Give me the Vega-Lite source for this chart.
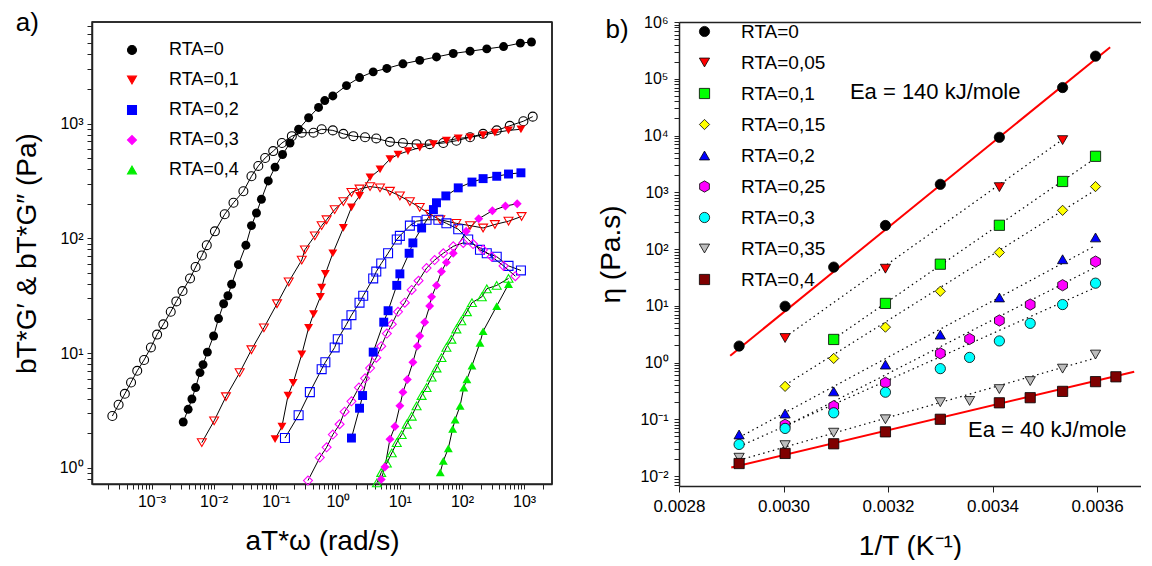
{
  "$schema": "https://vega.github.io/schema/vega-lite/v6.json",
  "background": "white",
  "padding": {"left": 12, "top": 9, "right": 0, "bottom": 0},
  "config": {
    "font": "Liberation Sans",
    "view": {"stroke": null},
    "axis": {"labelFont": "Liberation Sans", "labelFontSize": 16, "labelColor": "black", "titleFont": "Liberation Sans", "titleFontSize": 28, "titleFontWeight": "normal", "titleColor": "black", "domainColor": "#222222", "domainWidth": 1.5, "tickColor": "#222222", "tickWidth": 1, "grid": false, "labelOverlap": false, "labelFlush": false},
    "legend": {"labelFont": "Liberation Sans", "labelColor": "black", "padding": 0},
    "concat": {"spacing": 43}
  },
  "resolve": {"scale": {"color": "independent", "fill": "independent", "shape": "independent", "x": "independent", "y": "independent"}},
  "datasets": {
    "visco": [
      {"R":"RTA=0","m":"G2","w":0.000234,"G":2.83},{"R":"RTA=0","m":"G2","w":0.000295,"G":3.55},{"R":"RTA=0","m":"G2","w":0.000372,"G":4.42},{"R":"RTA=0","m":"G2","w":0.000468,"G":5.55},{"R":"RTA=0","m":"G2","w":0.000589,"G":7.01},{"R":"RTA=0","m":"G2","w":0.000759,"G":8.71},{"R":"RTA=0","m":"G2","w":0.000977,"G":11.2},{"R":"RTA=0","m":"G2","w":0.00123,"G":14.5},{"R":"RTA=0","m":"G2","w":0.00155,"G":17.8},{"R":"RTA=0","m":"G2","w":0.00204,"G":22.9},{"R":"RTA=0","m":"G2","w":0.00251,"G":28.2},{"R":"RTA=0","m":"G2","w":0.00316,"G":34.7},{"R":"RTA=0","m":"G2","w":0.00417,"G":44.7},{"R":"RTA=0","m":"G2","w":0.00513,"G":56.2},{"R":"RTA=0","m":"G2","w":0.00646,"G":70.8},{"R":"RTA=0","m":"G2","w":0.00776,"G":87.1},{"R":"RTA=0","m":"G2","w":0.0105,"G":115},{"R":"RTA=0","m":"G2","w":0.0151,"G":162},{"R":"RTA=0","m":"G2","w":0.0209,"G":204},{"R":"RTA=0","m":"G2","w":0.0302,"G":257},{"R":"RTA=0","m":"G2","w":0.0407,"G":347},{"R":"RTA=0","m":"G2","w":0.0525,"G":427},{"R":"RTA=0","m":"G2","w":0.0676,"G":501},{"R":"RTA=0","m":"G2","w":0.0912,"G":575},{"R":"RTA=0","m":"G2","w":0.126,"G":676},{"R":"RTA=0","m":"G2","w":0.182,"G":776},{"R":"RTA=0","m":"G2","w":0.263,"G":832},{"R":"RTA=0","m":"G2","w":0.407,"G":832},{"R":"RTA=0","m":"G2","w":0.55,"G":891},{"R":"RTA=0","m":"G2","w":0.832,"G":871},{"R":"RTA=0","m":"G2","w":1.23,"G":813},{"R":"RTA=0","m":"G2","w":1.78,"G":776},{"R":"RTA=0","m":"G2","w":2.75,"G":759},{"R":"RTA=0","m":"G2","w":4.17,"G":741},{"R":"RTA=0","m":"G2","w":6.92,"G":692},{"R":"RTA=0","m":"G2","w":11.2,"G":676},{"R":"RTA=0","m":"G2","w":18.6,"G":661},{"R":"RTA=0","m":"G2","w":30.2,"G":661},{"R":"RTA=0","m":"G2","w":50.1,"G":676},{"R":"RTA=0","m":"G2","w":81.3,"G":708},{"R":"RTA=0","m":"G2","w":135,"G":759},{"R":"RTA=0","m":"G2","w":219,"G":813},{"R":"RTA=0","m":"G2","w":363,"G":871},{"R":"RTA=0","m":"G2","w":589,"G":955},{"R":"RTA=0","m":"G2","w":977,"G":1047},{"R":"RTA=0","m":"G2","w":1380,"G":1148},
      {"R":"RTA=0","m":"G1","w":0.00324,"G":2.51},{"R":"RTA=0","m":"G1","w":0.00389,"G":3.24},{"R":"RTA=0","m":"G1","w":0.00447,"G":3.98},{"R":"RTA=0","m":"G1","w":0.00513,"G":5.01},{"R":"RTA=0","m":"G1","w":0.00603,"G":6.76},{"R":"RTA=0","m":"G1","w":0.00676,"G":7.94},{"R":"RTA=0","m":"G1","w":0.00794,"G":10.2},{"R":"RTA=0","m":"G1","w":0.01,"G":14.1},{"R":"RTA=0","m":"G1","w":0.012,"G":20},{"R":"RTA=0","m":"G1","w":0.0145,"G":26.9},{"R":"RTA=0","m":"G1","w":0.017,"G":31.6},{"R":"RTA=0","m":"G1","w":0.0195,"G":39.8},{"R":"RTA=0","m":"G1","w":0.0251,"G":58.9},{"R":"RTA=0","m":"G1","w":0.0331,"G":87.1},{"R":"RTA=0","m":"G1","w":0.0407,"G":129},{"R":"RTA=0","m":"G1","w":0.049,"G":166},{"R":"RTA=0","m":"G1","w":0.0589,"G":219},{"R":"RTA=0","m":"G1","w":0.0759,"G":316},{"R":"RTA=0","m":"G1","w":0.0977,"G":417},{"R":"RTA=0","m":"G1","w":0.129,"G":537},{"R":"RTA=0","m":"G1","w":0.17,"G":676},{"R":"RTA=0","m":"G1","w":0.234,"G":891},{"R":"RTA=0","m":"G1","w":0.339,"G":1122},{"R":"RTA=0","m":"G1","w":0.49,"G":1380},{"R":"RTA=0","m":"G1","w":0.617,"G":1585},{"R":"RTA=0","m":"G1","w":0.832,"G":1738},{"R":"RTA=0","m":"G1","w":1.38,"G":2138},{"R":"RTA=0","m":"G1","w":2.24,"G":2512},{"R":"RTA=0","m":"G1","w":3.72,"G":2818},{"R":"RTA=0","m":"G1","w":6.17,"G":3020},{"R":"RTA=0","m":"G1","w":11.2,"G":3311},{"R":"RTA=0","m":"G1","w":20.9,"G":3548},{"R":"RTA=0","m":"G1","w":38.9,"G":3802},{"R":"RTA=0","m":"G1","w":72.4,"G":4074},{"R":"RTA=0","m":"G1","w":135,"G":4266},{"R":"RTA=0","m":"G1","w":251,"G":4467},{"R":"RTA=0","m":"G1","w":468,"G":4677},{"R":"RTA=0","m":"G1","w":871,"G":5012},{"R":"RTA=0","m":"G1","w":1318,"G":5129},
      {"R":"RTA=0,1","m":"G2","w":0.00646,"G":1.66},{"R":"RTA=0,1","m":"G2","w":0.0102,"G":2.57},{"R":"RTA=0,1","m":"G2","w":0.0158,"G":4.17},{"R":"RTA=0,1","m":"G2","w":0.0263,"G":6.76},{"R":"RTA=0,1","m":"G2","w":0.0407,"G":10.7},{"R":"RTA=0,1","m":"G2","w":0.0646,"G":16.6},{"R":"RTA=0,1","m":"G2","w":0.105,"G":26.9},{"R":"RTA=0,1","m":"G2","w":0.162,"G":41.7},{"R":"RTA=0,1","m":"G2","w":0.263,"G":64.6},{"R":"RTA=0,1","m":"G2","w":0.295,"G":79.4},{"R":"RTA=0,1","m":"G2","w":0.427,"G":105},{"R":"RTA=0,1","m":"G2","w":0.55,"G":129},{"R":"RTA=0,1","m":"G2","w":0.661,"G":145},{"R":"RTA=0,1","m":"G2","w":0.891,"G":178},{"R":"RTA=0,1","m":"G2","w":1.23,"G":209},{"R":"RTA=0,1","m":"G2","w":1.66,"G":251},{"R":"RTA=0,1","m":"G2","w":2.24,"G":269},{"R":"RTA=0,1","m":"G2","w":3.31,"G":282},{"R":"RTA=0,1","m":"G2","w":4.79,"G":275},{"R":"RTA=0,1","m":"G2","w":6.92,"G":257},{"R":"RTA=0,1","m":"G2","w":10,"G":234},{"R":"RTA=0,1","m":"G2","w":14.5,"G":209},{"R":"RTA=0,1","m":"G2","w":20.9,"G":186},{"R":"RTA=0,1","m":"G2","w":30.2,"G":162},{"R":"RTA=0,1","m":"G2","w":44.7,"G":145},{"R":"RTA=0,1","m":"G2","w":81.3,"G":135},{"R":"RTA=0,1","m":"G2","w":135,"G":129},{"R":"RTA=0,1","m":"G2","w":219,"G":123},{"R":"RTA=0,1","m":"G2","w":339,"G":132},{"R":"RTA=0,1","m":"G2","w":562,"G":141},{"R":"RTA=0,1","m":"G2","w":912,"G":155},
      {"R":"RTA=0,1","m":"G1","w":0.0977,"G":1.78},{"R":"RTA=0,1","m":"G1","w":0.126,"G":2.29},{"R":"RTA=0,1","m":"G1","w":0.158,"G":4.27},{"R":"RTA=0,1","m":"G1","w":0.191,"G":5.5},{"R":"RTA=0,1","m":"G1","w":0.263,"G":9.77},{"R":"RTA=0,1","m":"G1","w":0.339,"G":16.6},{"R":"RTA=0,1","m":"G1","w":0.407,"G":21.9},{"R":"RTA=0,1","m":"G1","w":0.525,"G":30.9},{"R":"RTA=0,1","m":"G1","w":0.55,"G":37.2},{"R":"RTA=0,1","m":"G1","w":0.631,"G":49},{"R":"RTA=0,1","m":"G1","w":0.832,"G":74.1},{"R":"RTA=0,1","m":"G1","w":1.23,"G":123},{"R":"RTA=0,1","m":"G1","w":1.66,"G":186},{"R":"RTA=0,1","m":"G1","w":2.24,"G":234},{"R":"RTA=0,1","m":"G1","w":3.31,"G":339},{"R":"RTA=0,1","m":"G1","w":4.79,"G":398},{"R":"RTA=0,1","m":"G1","w":6.92,"G":490},{"R":"RTA=0,1","m":"G1","w":9.33,"G":537},{"R":"RTA=0,1","m":"G1","w":13.5,"G":575},{"R":"RTA=0,1","m":"G1","w":20.9,"G":617},{"R":"RTA=0,1","m":"G1","w":34.7,"G":661},{"R":"RTA=0,1","m":"G1","w":56.2,"G":708},{"R":"RTA=0,1","m":"G1","w":87.1,"G":741},{"R":"RTA=0,1","m":"G1","w":135,"G":759},{"R":"RTA=0,1","m":"G1","w":219,"G":794},{"R":"RTA=0,1","m":"G1","w":339,"G":832},{"R":"RTA=0,1","m":"G1","w":562,"G":871},{"R":"RTA=0,1","m":"G1","w":891,"G":891},
      {"R":"RTA=0,2","m":"G2","w":0.141,"G":1.82},{"R":"RTA=0,2","m":"G2","w":0.234,"G":2.88},{"R":"RTA=0,2","m":"G2","w":0.355,"G":4.57},{"R":"RTA=0,2","m":"G2","w":0.55,"G":7.24},{"R":"RTA=0,2","m":"G2","w":0.631,"G":8.32},{"R":"RTA=0,2","m":"G2","w":0.891,"G":11.2},{"R":"RTA=0,2","m":"G2","w":1,"G":13.2},{"R":"RTA=0,2","m":"G2","w":1.38,"G":17.8},{"R":"RTA=0,2","m":"G2","w":1.66,"G":21.4},{"R":"RTA=0,2","m":"G2","w":2.24,"G":27.5},{"R":"RTA=0,2","m":"G2","w":2.57,"G":31.6},{"R":"RTA=0,2","m":"G2","w":3.72,"G":44.7},{"R":"RTA=0,2","m":"G2","w":4.17,"G":51.3},{"R":"RTA=0,2","m":"G2","w":5.01,"G":60.3},{"R":"RTA=0,2","m":"G2","w":6.46,"G":74.1},{"R":"RTA=0,2","m":"G2","w":8.91,"G":97.7},{"R":"RTA=0,2","m":"G2","w":10,"G":105},{"R":"RTA=0,2","m":"G2","w":14.5,"G":129},{"R":"RTA=0,2","m":"G2","w":18.6,"G":141},{"R":"RTA=0,2","m":"G2","w":26.9,"G":145},{"R":"RTA=0,2","m":"G2","w":41.7,"G":145},{"R":"RTA=0,2","m":"G2","w":56.2,"G":135},{"R":"RTA=0,2","m":"G2","w":87.1,"G":120},{"R":"RTA=0,2","m":"G2","w":126,"G":97.7},{"R":"RTA=0,2","m":"G2","w":195,"G":79.4},{"R":"RTA=0,2","m":"G2","w":251,"G":74.1},{"R":"RTA=0,2","m":"G2","w":363,"G":69.2},{"R":"RTA=0,2","m":"G2","w":562,"G":57.5},{"R":"RTA=0,2","m":"G2","w":891,"G":52.5},
      {"R":"RTA=0,2","m":"G1","w":1.66,"G":1.82},{"R":"RTA=0,2","m":"G1","w":2.24,"G":3.31},{"R":"RTA=0,2","m":"G1","w":2.51,"G":4.27},{"R":"RTA=0,2","m":"G1","w":3.72,"G":10.2},{"R":"RTA=0,2","m":"G1","w":5.5,"G":18.6},{"R":"RTA=0,2","m":"G1","w":6.46,"G":23.4},{"R":"RTA=0,2","m":"G1","w":8.91,"G":38.9},{"R":"RTA=0,2","m":"G1","w":10,"G":49},{"R":"RTA=0,2","m":"G1","w":14.1,"G":74.1},{"R":"RTA=0,2","m":"G1","w":16.2,"G":91.2},{"R":"RTA=0,2","m":"G1","w":22.4,"G":123},{"R":"RTA=0,2","m":"G1","w":34.7,"G":178},{"R":"RTA=0,2","m":"G1","w":38.9,"G":204},{"R":"RTA=0,2","m":"G1","w":55,"G":234},{"R":"RTA=0,2","m":"G1","w":87.1,"G":275},{"R":"RTA=0,2","m":"G1","w":145,"G":309},{"R":"RTA=0,2","m":"G1","w":219,"G":331},{"R":"RTA=0,2","m":"G1","w":363,"G":347},{"R":"RTA=0,2","m":"G1","w":562,"G":363},{"R":"RTA=0,2","m":"G1","w":891,"G":372},
      {"R":"RTA=0,3","m":"G2","w":0.331,"G":0.776},{"R":"RTA=0,3","m":"G2","w":0.513,"G":1.23},{"R":"RTA=0,3","m":"G2","w":0.661,"G":1.51},{"R":"RTA=0,3","m":"G2","w":0.832,"G":1.95},{"R":"RTA=0,3","m":"G2","w":1.07,"G":2.4},{"R":"RTA=0,3","m":"G2","w":1.29,"G":3.09},{"R":"RTA=0,3","m":"G2","w":1.66,"G":3.8},{"R":"RTA=0,3","m":"G2","w":2.19,"G":5.01},{"R":"RTA=0,3","m":"G2","w":2.75,"G":6.03},{"R":"RTA=0,3","m":"G2","w":3.31,"G":7.41},{"R":"RTA=0,3","m":"G2","w":4.17,"G":9.12},{"R":"RTA=0,3","m":"G2","w":5.01,"G":11.5},{"R":"RTA=0,3","m":"G2","w":6.17,"G":14.8},{"R":"RTA=0,3","m":"G2","w":7.41,"G":17.8},{"R":"RTA=0,3","m":"G2","w":9.33,"G":22.9},{"R":"RTA=0,3","m":"G2","w":12,"G":27.5},{"R":"RTA=0,3","m":"G2","w":15.5,"G":35.5},{"R":"RTA=0,3","m":"G2","w":20,"G":42.7},{"R":"RTA=0,3","m":"G2","w":26.9,"G":55},{"R":"RTA=0,3","m":"G2","w":36.3,"G":64.6},{"R":"RTA=0,3","m":"G2","w":50.1,"G":74.1},{"R":"RTA=0,3","m":"G2","w":72.4,"G":85.1},{"R":"RTA=0,3","m":"G2","w":105,"G":91.2},{"R":"RTA=0,3","m":"G2","w":151,"G":89.1},{"R":"RTA=0,3","m":"G2","w":219,"G":79.4},{"R":"RTA=0,3","m":"G2","w":302,"G":69.2},{"R":"RTA=0,3","m":"G2","w":468,"G":57.5},{"R":"RTA=0,3","m":"G2","w":724,"G":46.8},
      {"R":"RTA=0,3","m":"G1","w":5.01,"G":0.794},{"R":"RTA=0,3","m":"G1","w":5.75,"G":1.02},{"R":"RTA=0,3","m":"G1","w":6.92,"G":1.78},{"R":"RTA=0,3","m":"G1","w":8.32,"G":2.29},{"R":"RTA=0,3","m":"G1","w":10,"G":3.47},{"R":"RTA=0,3","m":"G1","w":11.2,"G":4.57},{"R":"RTA=0,3","m":"G1","w":13.2,"G":5.89},{"R":"RTA=0,3","m":"G1","w":16.2,"G":8.32},{"R":"RTA=0,3","m":"G1","w":19.1,"G":11.5},{"R":"RTA=0,3","m":"G1","w":20.9,"G":14.1},{"R":"RTA=0,3","m":"G1","w":25.1,"G":18.6},{"R":"RTA=0,3","m":"G1","w":30.2,"G":25.7},{"R":"RTA=0,3","m":"G1","w":32.4,"G":30.9},{"R":"RTA=0,3","m":"G1","w":38.9,"G":38.9},{"R":"RTA=0,3","m":"G1","w":46.8,"G":51.3},{"R":"RTA=0,3","m":"G1","w":56.2,"G":61.7},{"R":"RTA=0,3","m":"G1","w":72.4,"G":74.1},{"R":"RTA=0,3","m":"G1","w":117,"G":115},{"R":"RTA=0,3","m":"G1","w":186,"G":148},{"R":"RTA=0,3","m":"G1","w":309,"G":174},{"R":"RTA=0,3","m":"G1","w":501,"G":191},{"R":"RTA=0,3","m":"G1","w":776,"G":200},
      {"R":"RTA=0,4","m":"G2","w":4.27,"G":0.741},{"R":"RTA=0,4","m":"G2","w":5.01,"G":0.912},{"R":"RTA=0,4","m":"G2","w":6.17,"G":1.1},{"R":"RTA=0,4","m":"G2","w":7.41,"G":1.35},{"R":"RTA=0,4","m":"G2","w":8.91,"G":1.66},{"R":"RTA=0,4","m":"G2","w":10.7,"G":1.95},{"R":"RTA=0,4","m":"G2","w":12.9,"G":2.4},{"R":"RTA=0,4","m":"G2","w":15.5,"G":2.82},{"R":"RTA=0,4","m":"G2","w":18.6,"G":3.47},{"R":"RTA=0,4","m":"G2","w":22.4,"G":4.27},{"R":"RTA=0,4","m":"G2","w":26.9,"G":5.01},{"R":"RTA=0,4","m":"G2","w":32.4,"G":6.17},{"R":"RTA=0,4","m":"G2","w":38.9,"G":7.41},{"R":"RTA=0,4","m":"G2","w":46.8,"G":9.12},{"R":"RTA=0,4","m":"G2","w":56.2,"G":11.2},{"R":"RTA=0,4","m":"G2","w":67.6,"G":13.2},{"R":"RTA=0,4","m":"G2","w":81.3,"G":16.2},{"R":"RTA=0,4","m":"G2","w":97.7,"G":19.1},{"R":"RTA=0,4","m":"G2","w":120,"G":22.9},{"R":"RTA=0,4","m":"G2","w":145,"G":27.5},{"R":"RTA=0,4","m":"G2","w":209,"G":30.9},{"R":"RTA=0,4","m":"G2","w":251,"G":36.3},{"R":"RTA=0,4","m":"G2","w":363,"G":38.9},{"R":"RTA=0,4","m":"G2","w":562,"G":44.7},
      {"R":"RTA=0,4","m":"G1","w":44.7,"G":0.912},{"R":"RTA=0,4","m":"G1","w":50.1,"G":1.15},{"R":"RTA=0,4","m":"G1","w":60.3,"G":1.48},{"R":"RTA=0,4","m":"G1","w":70.8,"G":2.19},{"R":"RTA=0,4","m":"G1","w":77.6,"G":2.63},{"R":"RTA=0,4","m":"G1","w":93.3,"G":3.47},{"R":"RTA=0,4","m":"G1","w":107,"G":5.01},{"R":"RTA=0,4","m":"G1","w":120,"G":5.89},{"R":"RTA=0,4","m":"G1","w":145,"G":7.76},{"R":"RTA=0,4","m":"G1","w":195,"G":12.3},{"R":"RTA=0,4","m":"G1","w":219,"G":15.5},{"R":"RTA=0,4","m":"G1","w":363,"G":25.7},{"R":"RTA=0,4","m":"G1","w":562,"G":39.8}
    ],
    "eta": [
      {"RT":"RTA=0","invT":0.002915,"eta":1.95},{"RT":"RTA=0","invT":0.003003,"eta":9.8},{"RT":"RTA=0","invT":0.003096,"eta":48},{"RT":"RTA=0","invT":0.003195,"eta":260},{"RT":"RTA=0","invT":0.0033,"eta":1380},{"RT":"RTA=0","invT":0.003413,"eta":9300},{"RT":"RTA=0","invT":0.003534,"eta":70000},{"RT":"RTA=0","invT":0.003597,"eta":250000},
      {"RT":"RTA=0,05","invT":0.003003,"eta":2.7},{"RT":"RTA=0,05","invT":0.003195,"eta":45},{"RT":"RTA=0,05","invT":0.003413,"eta":1230},{"RT":"RTA=0,05","invT":0.003534,"eta":8300},
      {"RT":"RTA=0,1","invT":0.003096,"eta":2.55},{"RT":"RTA=0,1","invT":0.003195,"eta":11},{"RT":"RTA=0,1","invT":0.0033,"eta":54},{"RT":"RTA=0,1","invT":0.003413,"eta":262},{"RT":"RTA=0,1","invT":0.003534,"eta":1550},{"RT":"RTA=0,1","invT":0.003597,"eta":4300},
      {"RT":"RTA=0,15","invT":0.003003,"eta":0.38},{"RT":"RTA=0,15","invT":0.003096,"eta":1.18},{"RT":"RTA=0,15","invT":0.003195,"eta":4.2},{"RT":"RTA=0,15","invT":0.0033,"eta":18},{"RT":"RTA=0,15","invT":0.003413,"eta":87},{"RT":"RTA=0,15","invT":0.003534,"eta":480},{"RT":"RTA=0,15","invT":0.003597,"eta":1260},
      {"RT":"RTA=0,2","invT":0.002915,"eta":0.054},{"RT":"RTA=0,2","invT":0.003003,"eta":0.126},{"RT":"RTA=0,2","invT":0.003096,"eta":0.31},{"RT":"RTA=0,2","invT":0.003195,"eta":0.92},{"RT":"RTA=0,2","invT":0.0033,"eta":3.1},{"RT":"RTA=0,2","invT":0.003413,"eta":14},{"RT":"RTA=0,2","invT":0.003534,"eta":66},{"RT":"RTA=0,2","invT":0.003597,"eta":160},
      {"RT":"RTA=0,25","invT":0.003003,"eta":0.08},{"RT":"RTA=0,25","invT":0.003096,"eta":0.17},{"RT":"RTA=0,25","invT":0.003195,"eta":0.44},{"RT":"RTA=0,25","invT":0.0033,"eta":1.45},{"RT":"RTA=0,25","invT":0.003356,"eta":2.6},{"RT":"RTA=0,25","invT":0.003413,"eta":5.5},{"RT":"RTA=0,25","invT":0.003472,"eta":10.5},{"RT":"RTA=0,25","invT":0.003534,"eta":23},{"RT":"RTA=0,25","invT":0.003597,"eta":60},
      {"RT":"RTA=0,3","invT":0.002915,"eta":0.036},{"RT":"RTA=0,3","invT":0.003003,"eta":0.069},{"RT":"RTA=0,3","invT":0.003096,"eta":0.13},{"RT":"RTA=0,3","invT":0.003195,"eta":0.3},{"RT":"RTA=0,3","invT":0.0033,"eta":0.78},{"RT":"RTA=0,3","invT":0.003356,"eta":1.23},{"RT":"RTA=0,3","invT":0.003413,"eta":2.4},{"RT":"RTA=0,3","invT":0.003472,"eta":4.9},{"RT":"RTA=0,3","invT":0.003534,"eta":10.5},{"RT":"RTA=0,3","invT":0.003597,"eta":25},
      {"RT":"RTA=0,35","invT":0.002915,"eta":0.021},{"RT":"RTA=0,35","invT":0.003003,"eta":0.035},{"RT":"RTA=0,35","invT":0.003096,"eta":0.058},{"RT":"RTA=0,35","invT":0.003195,"eta":0.1},{"RT":"RTA=0,35","invT":0.0033,"eta":0.2},{"RT":"RTA=0,35","invT":0.003356,"eta":0.21},{"RT":"RTA=0,35","invT":0.003413,"eta":0.34},{"RT":"RTA=0,35","invT":0.003472,"eta":0.47},{"RT":"RTA=0,35","invT":0.003534,"eta":0.78},{"RT":"RTA=0,35","invT":0.003597,"eta":1.38},
      {"RT":"RTA=0,4","invT":0.002915,"eta":0.0166},{"RT":"RTA=0,4","invT":0.003003,"eta":0.025},{"RT":"RTA=0,4","invT":0.003096,"eta":0.037},{"RT":"RTA=0,4","invT":0.003195,"eta":0.06},{"RT":"RTA=0,4","invT":0.0033,"eta":0.1},{"RT":"RTA=0,4","invT":0.003413,"eta":0.195},{"RT":"RTA=0,4","invT":0.003472,"eta":0.24},{"RT":"RTA=0,4","invT":0.003534,"eta":0.31},{"RT":"RTA=0,4","invT":0.003597,"eta":0.46},{"RT":"RTA=0,4","invT":0.003636,"eta":0.56}
    ],
    "fitRed": [
      {"f":"140","invT":0.002898,"eta":1.32},{"f":"140","invT":0.003625,"eta":360000},
      {"f":"40","invT":0.0029,"eta":0.0141},{"f":"40","invT":0.003671,"eta":0.69}
    ],
    "fitDot": [
      {"f":"0,05","invT":0.003003,"eta":2.8},{"f":"0,05","invT":0.003534,"eta":8500},
      {"f":"0,1","invT":0.003096,"eta":2.6},{"f":"0,1","invT":0.003597,"eta":4000},
      {"f":"0,15","invT":0.003003,"eta":0.4},{"f":"0,15","invT":0.003597,"eta":1100},
      {"f":"0,2","invT":0.002915,"eta":0.048},{"f":"0,2","invT":0.003597,"eta":115},
      {"f":"0,25","invT":0.003003,"eta":0.075},{"f":"0,25","invT":0.003597,"eta":48},
      {"f":"0,3","invT":0.002915,"eta":0.033},{"f":"0,3","invT":0.003597,"eta":21},
      {"f":"0,35","invT":0.002915,"eta":0.019},{"f":"0,35","invT":0.003597,"eta":1.2}
    ]
  },
  "hconcat": [
    {
      "width": 460,
      "height": 462,
      "view": {"stroke": "#222222", "strokeWidth": 1.5},
      "resolve": {"axis": {"x": "independent", "y": "independent"}},
      "layer": [
        {
          "data": {"name": "visco"},
          "mark": {"type": "line", "color": "black", "strokeWidth": 1},
          "encoding": {
            "x": {"field": "w", "type": "quantitative", "scale": {"type": "log", "domain": [0.00011, 2820], "nice": false},
              "axis": {"orient": "bottom", "title": "aT*ω (rad/s)", "titlePadding": 18, "tickSize": 5, "labelPadding": 4,
                "values": [0.0002,0.0003,0.0004,0.0005,0.0006,0.0007,0.0008,0.0009,0.001,0.002,0.003,0.004,0.005,0.006,0.007,0.008,0.009,0.01,0.02,0.03,0.04,0.05,0.06,0.07,0.08,0.09,0.1,0.2,0.3,0.4,0.5,0.6,0.7,0.8,0.9,1,2,3,4,5,6,7,8,9,10,20,30,40,50,60,70,80,90,100,200,300,400,500,600,700,800,900,1000,2000],
                "labelExpr": "abs(log(datum.value)/LN10 - round(log(datum.value)/LN10)) < 0.001 ? '10' + (round(log(datum.value)/LN10) < 0 ? '⁻' : '') + ['⁰','¹','²','³','⁴','⁵','⁶','⁷'][abs(round(log(datum.value)/LN10))] : ''"}},
            "y": {"field": "G", "type": "quantitative", "scale": {"type": "log", "domain": [0.724, 7660], "nice": false},
              "axis": {"orient": "left", "title": "bT*G′ & bT*G″ (Pa)", "titlePadding": 18, "tickSize": 5, "labelPadding": 4,
                "values": [0.8,0.9,1,2,3,4,5,6,7,8,9,10,20,30,40,50,60,70,80,90,100,200,300,400,500,600,700,800,900,1000,2000,3000,4000,5000,6000,7000],
                "labelExpr": "abs(log(datum.value)/LN10 - round(log(datum.value)/LN10)) < 0.001 ? '10' + (round(log(datum.value)/LN10) < 0 ? '⁻' : '') + ['⁰','¹','²','³','⁴','⁵','⁶','⁷'][abs(round(log(datum.value)/LN10))] : ''"}},
            "detail": [{"field": "R"}, {"field": "m"}]
          }
        },
        {
          "data": {"values": [{}]},
          "mark": {"type": "rule", "color": "#222222", "strokeWidth": 1.5},
          "encoding": {
            "x": {"datum": 0.00011, "type": "quantitative", "scale": {"type": "log", "domain": [0.00011, 2820], "nice": false}, "axis": null},
            "x2": {"datum": 2820},
            "y": {"datum": 7660, "type": "quantitative", "scale": {"type": "log", "domain": [0.724, 7660], "nice": false}, "axis": null}
          }
        },
        {
          "data": {"values": [{}]},
          "mark": {"type": "rule", "color": "#222222", "strokeWidth": 1.5},
          "encoding": {
            "x": {"datum": 2820, "type": "quantitative", "scale": {"type": "log", "domain": [0.00011, 2820], "nice": false}, "axis": null},
            "y": {"datum": 0.724, "type": "quantitative", "scale": {"type": "log", "domain": [0.724, 7660], "nice": false}, "axis": null},
            "y2": {"datum": 7660}
          }
        },
        {
          "data": {"name": "visco"},
          "transform": [{"filter": "datum.m === 'G2'"}],
          "mark": {"type": "point", "filled": false, "strokeWidth": 1.1, "size": 80, "opacity": 1},
          "encoding": {
            "x": {"field": "w", "type": "quantitative", "scale": {"type": "log", "domain": [0.00011, 2820], "nice": false}, "axis": null},
            "y": {"field": "G", "type": "quantitative", "scale": {"type": "log", "domain": [0.724, 7660], "nice": false}, "axis": null},
            "color": {"field": "R", "type": "nominal", "scale": {"domain": ["RTA=0","RTA=0,1","RTA=0,2","RTA=0,3","RTA=0,4"], "range": ["#000000","#ff0000","#0000ff","#ff00ff","#00ee00"]},
              "legend": {"title": null, "orient": "none", "legendX": 31, "legendY": 19, "labelFontSize": 18, "symbolSize": 80, "symbolStrokeWidth": 1.1, "rowPadding": 12, "labelOffset": 28}},
            "shape": {"field": "R", "type": "nominal", "scale": {"domain": ["RTA=0","RTA=0,1","RTA=0,2","RTA=0,3","RTA=0,4"], "range": ["circle","triangle-down","square","diamond","triangle-up"]},
              "legend": {"title": null, "orient": "none", "legendX": 31, "legendY": 19, "labelFontSize": 18, "symbolSize": 80, "symbolStrokeWidth": 1.1, "rowPadding": 12, "labelOffset": 28}}
          }
        },
        {
          "data": {"name": "visco"},
          "transform": [{"filter": "datum.m === 'G1'"}],
          "mark": {"type": "point", "filled": true, "size": 80, "opacity": 1, "strokeWidth": 0},
          "encoding": {
            "x": {"field": "w", "type": "quantitative", "scale": {"type": "log", "domain": [0.00011, 2820], "nice": false}, "axis": null},
            "y": {"field": "G", "type": "quantitative", "scale": {"type": "log", "domain": [0.724, 7660], "nice": false}, "axis": null},
            "fill": {"field": "R", "type": "nominal", "scale": {"domain": ["RTA=0","RTA=0,1","RTA=0,2","RTA=0,3","RTA=0,4"], "range": ["#000000","#ff0000","#0000ff","#ff00ff","#00ee00"]}, "legend": null},
            "shape": {"field": "R", "type": "nominal", "scale": {"domain": ["RTA=0","RTA=0,1","RTA=0,2","RTA=0,3","RTA=0,4"], "range": ["circle","triangle-down","square","diamond","triangle-up"]}, "legend": null}
          }
        },
        {
          "data": {"values": [{}]},
          "mark": {"type": "text", "text": "a)", "fontSize": 26, "align": "center", "baseline": "middle", "color": "black"},
          "encoding": {
            "x": {"datum": 0.00001, "type": "quantitative", "scale": {"type": "log", "domain": [0.00011, 2820], "nice": false}, "axis": null},
            "y": {"datum": 7500, "type": "quantitative", "scale": {"type": "log", "domain": [0.724, 7660], "nice": false}, "axis": null}
          }
        }
      ]
    },
    {
      "width": 462,
      "height": 464,
      "resolve": {"axis": {"x": "independent", "y": "independent"}},
      "layer": [
        {
          "data": {"name": "fitRed"},
          "mark": {"type": "line", "color": "#ff0000", "strokeWidth": 2},
          "encoding": {
            "x": {"field": "invT", "type": "quantitative", "scale": {"domain": [0.0028, 0.003684], "nice": false, "zero": false},
              "axis": {"orient": "bottom", "title": "1/T (K⁻¹)", "titlePadding": 18, "values": [0.0028,0.003,0.0032,0.0034,0.0036], "format": ".4f", "labelFontSize": 17, "tickSize": 6, "labelPadding": 6}},
            "y": {"field": "eta", "type": "quantitative", "scale": {"type": "log", "domain": [0.00667, 1000000], "nice": false},
              "axis": {"orient": "left", "title": "η (Pa.s)", "titlePadding": 14, "labelPadding": 6, "tickSize": 5,
                "values": [0.007,0.008,0.009,0.01,0.02,0.03,0.04,0.05,0.06,0.07,0.08,0.09,0.1,0.2,0.3,0.4,0.5,0.6,0.7,0.8,0.9,1,2,3,4,5,6,7,8,9,10,20,30,40,50,60,70,80,90,100,200,300,400,500,600,700,800,900,1000,2000,3000,4000,5000,6000,7000,8000,9000,10000,20000,30000,40000,50000,60000,70000,80000,90000,100000,200000,300000,400000,500000,600000,700000,800000,900000,1000000],
                "labelExpr": "abs(log(datum.value)/LN10 - round(log(datum.value)/LN10)) < 0.001 ? '10' + (round(log(datum.value)/LN10) < 0 ? '⁻' : '') + ['⁰','¹','²','³','⁴','⁵','⁶','⁷'][abs(round(log(datum.value)/LN10))] : ''"}},
            "detail": {"field": "f"}
          }
        },
        {
          "data": {"name": "fitDot"},
          "mark": {"type": "line", "color": "black", "strokeWidth": 1.2, "strokeDash": [1.5, 3.5]},
          "encoding": {
            "x": {"field": "invT", "type": "quantitative", "scale": {"domain": [0.0028, 0.003684], "nice": false, "zero": false}, "axis": null},
            "y": {"field": "eta", "type": "quantitative", "scale": {"type": "log", "domain": [0.00667, 1000000], "nice": false}, "axis": null},
            "detail": {"field": "f"}
          }
        },
        {
          "data": {"name": "eta"},
          "mark": {"type": "point", "filled": true, "size": 105, "opacity": 1, "stroke": "black", "strokeWidth": 0.8},
          "encoding": {
            "x": {"field": "invT", "type": "quantitative", "scale": {"domain": [0.0028, 0.003684], "nice": false, "zero": false}, "axis": null},
            "y": {"field": "eta", "type": "quantitative", "scale": {"type": "log", "domain": [0.00667, 1000000], "nice": false}, "axis": null},
            "color": {"field": "RT", "type": "nominal", "scale": {"domain": ["RTA=0","RTA=0,05","RTA=0,1","RTA=0,15","RTA=0,2","RTA=0,25","RTA=0,3","RTA=0,35","RTA=0,4"], "range": ["#000000","#ff0000","#00ff00","#ffff00","#0000ff","#ff00ff","#00ffff","#bdbdbd","#7f0000"]},
              "legend": {"title": null, "orient": "none", "legendX": 16, "legendY": 0, "labelFontSize": 19, "symbolSize": 105, "rowPadding": 11, "labelOffset": 27, "symbolStrokeColor": "black", "symbolStrokeWidth": 0.8}},
            "shape": {"field": "RT", "type": "nominal", "scale": {"domain": ["RTA=0","RTA=0,05","RTA=0,1","RTA=0,15","RTA=0,2","RTA=0,25","RTA=0,3","RTA=0,35","RTA=0,4"], "range": ["circle","triangle-down","square","diamond","triangle-up","M0,-1.1L0.95,-0.55L0.95,0.55L0,1.1L-0.95,0.55L-0.95,-0.55Z","circle","triangle-down","square"]},
              "legend": {"title": null, "orient": "none", "legendX": 16, "legendY": 0, "labelFontSize": 19, "symbolSize": 105, "rowPadding": 11, "labelOffset": 27, "symbolStrokeColor": "black", "symbolStrokeWidth": 0.8}}
          }
        },
        {
          "data": {"values": [{}]},
          "mark": {"type": "text", "text": "Ea = 140 kJ/mole", "fontSize": 22, "align": "left", "baseline": "middle", "color": "black"},
          "encoding": {
            "x": {"datum": 0.003127, "type": "quantitative", "scale": {"domain": [0.0028, 0.003684], "nice": false, "zero": false}, "axis": null},
            "y": {"datum": 58000, "type": "quantitative", "scale": {"type": "log", "domain": [0.00667, 1000000], "nice": false}, "axis": null}
          }
        },
        {
          "data": {"values": [{}]},
          "mark": {"type": "text", "text": "Ea = 40 kJ/mole", "fontSize": 22, "align": "left", "baseline": "middle", "color": "black"},
          "encoding": {
            "x": {"datum": 0.003353, "type": "quantitative", "scale": {"domain": [0.0028, 0.003684], "nice": false, "zero": false}, "axis": null},
            "y": {"datum": 0.066, "type": "quantitative", "scale": {"type": "log", "domain": [0.00667, 1000000], "nice": false}, "axis": null}
          }
        },
        {
          "data": {"values": [{}]},
          "mark": {"type": "text", "text": "b)", "fontSize": 26, "align": "center", "baseline": "middle", "color": "black"},
          "encoding": {
            "x": {"datum": 0.0026815, "type": "quantitative", "scale": {"domain": [0.0028, 0.003684], "nice": false, "zero": false}, "axis": null},
            "y": {"datum": 724000, "type": "quantitative", "scale": {"type": "log", "domain": [0.00667, 1000000], "nice": false}, "axis": null}
          }
        },
        {
          "data": {"name": "eta"},
          "mark": {"type": "point", "opacity": 0},
          "encoding": {
            "x": {"field": "invT", "type": "quantitative", "scale": {"domain": [0.0028, 0.003684], "nice": false, "zero": false},
              "axis": {"orient": "top", "title": null, "labels": false, "ticks": false, "domain": true}},
            "y": {"field": "eta", "type": "quantitative", "scale": {"type": "log", "domain": [0.00667, 1000000], "nice": false}, "axis": null}
          }
        }
      ]
    }
  ]
}
